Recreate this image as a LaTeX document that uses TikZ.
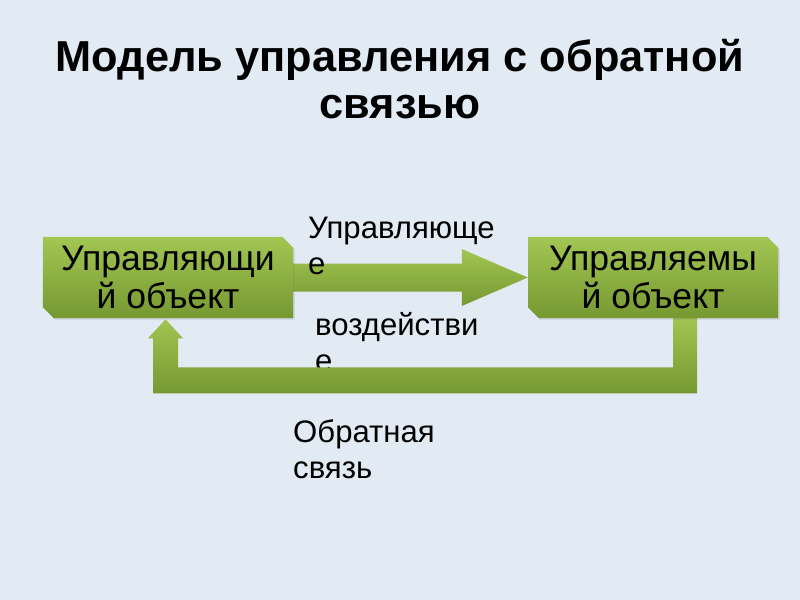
\documentclass[tikz,border=0pt]{standalone}
\usepackage{fontspec}
\setmainfont{Liberation Sans}
\usetikzlibrary{calc,shapes.misc,shadows}
\definecolor{bgblue}{RGB}{226,235,243}
\definecolor{greentop}{RGB}{162,198,82}
\definecolor{greenbot}{RGB}{118,152,50}
\pgfdeclarelayer{bottom}
\pgfdeclarelayer{arrows}
\pgfsetlayers{bottom,arrows,main}

\begin{document}
\begin{tikzpicture}[x=0.9pt,y=-0.9pt]
  \tikzstyle{objbox}=[shape=chamfered rectangle,chamfered rectangle corners={north east,south west},
    chamfered rectangle xsep=6pt,minimum width=225pt,minimum height=73pt,inner sep=0pt,
    top color=greentop,bottom color=greenbot,align=center,
    font=\fontsize{32}{34}\selectfont,
    drop shadow={opacity=0.25,shadow xshift=1.5pt,shadow yshift=-1.5pt}]
  \tikzstyle{lbl}=[anchor=west,align=left,inner sep=0pt,font=\fontsize{28}{32}\selectfont]
  \tikzstyle{bigarrow}=[top color=greentop,bottom color=greenbot]
  % title
  \node[align=center,font=\fontsize{39}{43}\selectfont\bfseries] (title) at (400,79)
    {Модель управления с обратной\\связью};
  % the two objects
  \node[objbox] (ctrl) at (168,277.5) {Управляющи\\й объект};
  \node[objbox] (plant) at (653,277.5) {Управляемы\\й объект};
  \node[lbl] (actup) at (308,246) {Управляюще\\е};
  \node[lbl] (fb) at (293,449) {Обратная\\связь};
  \begin{pgfonlayer}{bottom}
    \fill[bgblue] (0,0) rectangle (800,600);
    \node[lbl] (actlow) at (315,342) {воздействи\\е};
  \end{pgfonlayer}
  % arrows
  \begin{pgfonlayer}{arrows}
    \path[bigarrow] ($(ctrl.east)+(-10,-14)$) -- ($(plant.west)+(-66,-14)$) -- ($(plant.west)+(-66,-28.5)$)
      -- (plant.west) -- ($(plant.west)+(-66,28.5)$) -- ($(plant.west)+(-66,14)$)
      -- ($(ctrl.east)+(-10,14)$) -- cycle;
    \path[bigarrow] ($(plant.south)+(20,-2)$) -- ($(plant.south)+(44,-2)$) -- ($(plant.south)+(44,75)$)
      -- ($(ctrl.south)+(-15,75)$) -- ($(ctrl.south)+(-15,20)$) -- ($(ctrl.south)+(-20,20)$)
      -- ($(ctrl.south)+(-2.5,1)$) -- ($(ctrl.south)+(15,20)$) -- ($(ctrl.south)+(10,20)$)
      -- ($(ctrl.south)+(10,49)$) -- ($(plant.south)+(20,49)$) -- cycle;
  \end{pgfonlayer}
\end{tikzpicture}
\end{document}
